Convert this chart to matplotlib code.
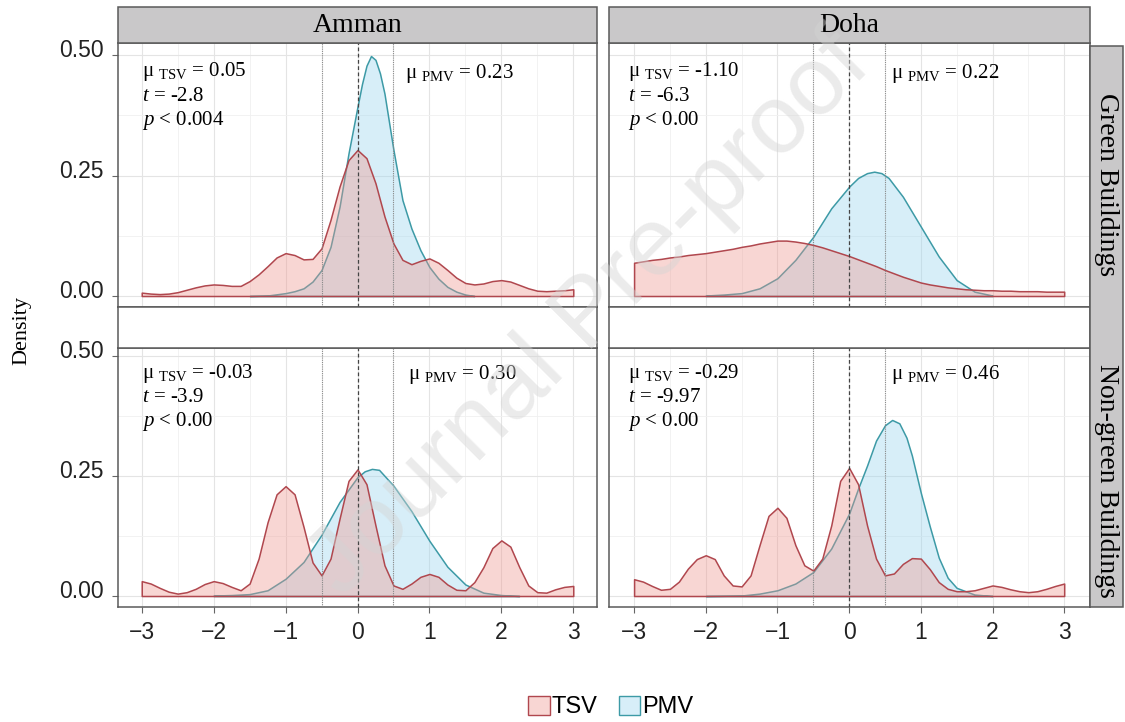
import matplotlib
matplotlib.use("Agg")
import matplotlib.pyplot as plt
import matplotlib.transforms as mtransforms
from matplotlib.patches import Patch, Rectangle
from matplotlib.colors import to_rgba
import numpy as np

# ---- data ----
cities = ["Amman", "Doha"]
groups = ["Green Buildings", "Non-green Buildings"]

# TSV densities sampled every 0.125 from -3 to 3
tsv_grid = np.linspace(-3, 3, 49)
tsv_amman_green = [
    0.007, 0.005, 0.004, 0.005, 0.008, 0.013, 0.018, 0.022, 0.024, 0.023,
    0.021, 0.021, 0.031, 0.045, 0.062, 0.080, 0.089, 0.085, 0.076, 0.077,
    0.099, 0.158, 0.227, 0.282, 0.303, 0.286, 0.234, 0.165, 0.109, 0.075,
    0.066, 0.073, 0.078, 0.069, 0.054, 0.038, 0.027, 0.024, 0.026, 0.031,
    0.033, 0.030, 0.023, 0.016, 0.011, 0.010, 0.011, 0.012, 0.014]
tsv_doha_green = [
    0.069, 0.072, 0.075, 0.077, 0.080, 0.082, 0.085, 0.087, 0.089, 0.092,
    0.095, 0.098, 0.102, 0.105, 0.109, 0.112, 0.115, 0.115, 0.113, 0.110,
    0.106, 0.101, 0.095, 0.089, 0.083, 0.076, 0.069, 0.062, 0.054, 0.047,
    0.040, 0.034, 0.028, 0.024, 0.021, 0.018, 0.016, 0.014, 0.013, 0.012,
    0.012, 0.011, 0.011, 0.010, 0.010, 0.010, 0.009, 0.009, 0.009]
tsv_amman_nongreen = [
    0.031, 0.026, 0.017, 0.009, 0.005, 0.008, 0.015, 0.025, 0.031, 0.027,
    0.019, 0.012, 0.026, 0.078, 0.154, 0.212, 0.229, 0.212, 0.144, 0.070,
    0.043, 0.078, 0.161, 0.240, 0.264, 0.233, 0.147, 0.064, 0.022, 0.015,
    0.026, 0.040, 0.046, 0.040, 0.024, 0.013, 0.012, 0.029, 0.060, 0.100,
    0.116, 0.103, 0.060, 0.022, 0.008, 0.007, 0.014, 0.019, 0.021]
tsv_doha_nongreen = [
    0.035, 0.030, 0.021, 0.013, 0.015, 0.030, 0.057, 0.077, 0.085, 0.077,
    0.043, 0.022, 0.020, 0.043, 0.106, 0.167, 0.184, 0.163, 0.106, 0.064,
    0.053, 0.078, 0.147, 0.240, 0.267, 0.233, 0.147, 0.078, 0.043, 0.047,
    0.067, 0.079, 0.078, 0.056, 0.029, 0.015, 0.010, 0.010, 0.012, 0.017,
    0.022, 0.019, 0.014, 0.010, 0.008, 0.010, 0.015, 0.021, 0.026]

# PMV densities (own sample points)
pmv_amman_green_x = [-1.5, -1.25, -1.0, -0.875, -0.75, -0.625, -0.5, -0.375, -0.25, -0.125,
                     0.0, 0.0625, 0.125, 0.1875, 0.25, 0.3125, 0.375, 0.5, 0.625, 0.75,
                     0.875, 1.0, 1.125, 1.25, 1.375, 1.5, 1.625]
pmv_amman_green_y = [0.0, 0.001, 0.006, 0.010, 0.016, 0.030, 0.054, 0.102, 0.185, 0.296,
                     0.393, 0.440, 0.478, 0.498, 0.490, 0.462, 0.420, 0.303, 0.199, 0.140,
                     0.095, 0.060, 0.036, 0.019, 0.009, 0.003, 0.0]
pmv_doha_green_x = [-2.0, -1.75, -1.5, -1.25, -1.0, -0.75, -0.5, -0.25, 0.0, 0.125,
                    0.25, 0.35, 0.45, 0.55, 0.75, 1.0, 1.25, 1.5, 1.75, 2.0]
pmv_doha_green_y = [0.001, 0.003, 0.006, 0.016, 0.037, 0.075, 0.123, 0.182, 0.227, 0.245,
                    0.255, 0.258, 0.255, 0.245, 0.206, 0.144, 0.082, 0.033, 0.009, 0.001]
pmv_amman_nongreen_x = [-2.0, -1.75, -1.5, -1.25, -1.0, -0.75, -0.5, -0.25, 0.0, 0.1,
                        0.2, 0.3, 0.5, 0.75, 1.0, 1.25, 1.5, 1.75, 2.0, 2.25]
pmv_amman_nongreen_y = [0.001, 0.002, 0.004, 0.012, 0.036, 0.071, 0.128, 0.196, 0.248, 0.260,
                        0.265, 0.263, 0.230, 0.177, 0.115, 0.061, 0.024, 0.007, 0.002, 0.0]
pmv_doha_nongreen_x = [-2.0, -1.5, -1.25, -1.0, -0.75, -0.5, -0.25, 0.0, 0.125, 0.25,
                       0.375, 0.5, 0.6, 0.7, 0.8, 0.875, 1.0, 1.125, 1.25, 1.375,
                       1.5, 1.75, 2.0]
pmv_doha_nongreen_y = [0.0, 0.001, 0.005, 0.012, 0.026, 0.050, 0.099, 0.172, 0.224, 0.272,
                       0.324, 0.356, 0.367, 0.360, 0.330, 0.293, 0.215, 0.145, 0.080, 0.038,
                       0.017, 0.003, 0.0]

# annotation text per panel: (mu_tsv, t, p, mu_pmv)
stats = {
    ("Amman", "Green Buildings"): ("0.05", "-2.8", "0.004", "0.23"),
    ("Doha", "Green Buildings"): ("-1.10", "-6.3", "0.00", "0.22"),
    ("Amman", "Non-green Buildings"): ("-0.03", "-3.9", "0.00", "0.30"),
    ("Doha", "Non-green Buildings"): ("-0.29", "-9.97", "0.00", "0.46"),
}

tsv_data = {
    ("Amman", "Green Buildings"): tsv_amman_green,
    ("Doha", "Green Buildings"): tsv_doha_green,
    ("Amman", "Non-green Buildings"): tsv_amman_nongreen,
    ("Doha", "Non-green Buildings"): tsv_doha_nongreen,
}
pmv_data = {
    ("Amman", "Green Buildings"): (pmv_amman_green_x, pmv_amman_green_y),
    ("Doha", "Green Buildings"): (pmv_doha_green_x, pmv_doha_green_y),
    ("Amman", "Non-green Buildings"): (pmv_amman_nongreen_x, pmv_amman_nongreen_y),
    ("Doha", "Non-green Buildings"): (pmv_doha_nongreen_x, pmv_doha_nongreen_y),
}

# ---- styling ----
SERIF = "Liberation Serif"
SANS = "Liberation Sans"
plt.rcParams["font.family"] = [SANS, "DejaVu Sans"]
plt.rcParams["mathtext.fontset"] = "custom"
plt.rcParams["mathtext.rm"] = SERIF
plt.rcParams["mathtext.it"] = SERIF + ":italic"

tsv_face = to_rgba("#ef958d", 0.38)
tsv_edge = "#b0474e"
pmv_face = to_rgba("#9cd6ef", 0.40)
pmv_edge = "#3d9aa6"
border = "#5a5a5a"
strip_bg = "#c9c8c9"
ANN = 15

W, H = 1125, 722
fig = plt.figure(figsize=(W / 100, H / 100), dpi=100)


def rect(x0, y0, x1, y1):
    return [x0 / W, 1 - y1 / H, (x1 - x0) / W, (y1 - y0) / H]


col_px = {"Amman": (118, 597), "Doha": (609, 1090)}
row_px = {"Green Buildings": (43, 307), "Non-green Buildings": (348, 607)}
xlims = {"Amman": (-3.33, 3.33), "Doha": (-3.35, 3.36)}
ylims = {"Green Buildings": (-0.0228, 0.525), "Non-green Buildings": (-0.0229, 0.517)}
text_y = {"Green Buildings": (0.456, 0.405, 0.355), "Non-green Buildings": (0.455, 0.405, 0.355)}

for city in cities:
    x0, x1 = col_px[city]
    for grp in groups:
        y0, y1 = row_px[grp]
        ax = fig.add_axes(rect(x0, y0, x1, y1))
        ax.set_xlim(*xlims[city])
        ax.set_ylim(*ylims[grp])
        ax.set_xticks(range(-3, 4))
        ax.set_xticks(np.arange(-2.5, 3.0, 1.0), minor=True)
        ax.set_yticks([0, 0.25, 0.5])
        ax.set_yticks([0.125, 0.375], minor=True)
        ax.grid(True, which="major", color="#e4e4e4", linewidth=0.8)
        ax.grid(True, which="minor", color="#f0f0f0", linewidth=0.6)
        ax.set_axisbelow(True)
        for sp in ax.spines.values():
            sp.set_color(border)
            sp.set_linewidth(1.1)
        ax.tick_params(which="minor", length=0)
        ax.tick_params(which="major", color="#666666", length=4, width=0.8,
                       labelsize=16.5, labelcolor="#222222")

        px, py = pmv_data[(city, grp)]
        ax.fill_between(px, py, 0, facecolor=pmv_face, edgecolor=pmv_edge,
                        linewidth=1.1, zorder=2, joinstyle="round")
        ax.fill_between(tsv_grid, tsv_data[(city, grp)], 0, facecolor=tsv_face,
                        edgecolor=tsv_edge, linewidth=1.1, zorder=3, joinstyle="round")

        ax.axvline(-0.5, color="#8a8a8a", linestyle=(0, (1, 1)), linewidth=0.8, zorder=4)
        ax.axvline(0.5, color="#8a8a8a", linestyle=(0, (1, 1)), linewidth=0.8, zorder=4)
        ax.axvline(0, color="#444444", linestyle=(0, (3, 2)), linewidth=0.9, zorder=4)

        if city == "Amman":
            ax.set_yticklabels(["0.00", "0.25", "0.50"])
            ax.tick_params(axis="y", pad=6)
            off = mtransforms.ScaledTranslation(0, 5 / 72, fig.dpi_scale_trans)
            for lab in ax.get_yticklabels():
                lab.set_transform(lab.get_transform() + off)
        else:
            ax.tick_params(axis="y", left=False, labelleft=False)
        if grp == "Green Buildings":
            ax.tick_params(axis="x", bottom=False, labelbottom=False)
        else:
            ax.set_xticklabels(["\u22123", "\u22122", "\u22121", "0", "1", "2", "3"])
            ax.tick_params(axis="x", pad=6)

        mu_t, t_val, p_val, mu_p = stats[(city, grp)]
        ty = text_y[grp]
        tx = -3.0 if city == "Amman" else -3.08
        ax.text(tx, ty[0], "\u03bc $_{\\mathrm{TSV}}$ = " + mu_t, fontsize=ANN,
                family=SERIF, zorder=6)
        ax.text(tx, ty[1], "$t$ = " + t_val, fontsize=ANN, family=SERIF, zorder=6)
        ax.text(tx, ty[2], "$p$ < " + p_val, fontsize=ANN, family=SERIF, zorder=6)
        pmv_x = {"Amman": 0.66, "Doha": 0.58}[city]
        if (city, grp) == ("Amman", "Non-green Buildings"):
            pmv_x = 0.70
        ax.text(pmv_x, ty[0] - 0.003, "\u03bc $_{\\mathrm{PMV}}$ = " + mu_p, fontsize=ANN,
                family=SERIF, zorder=6)

    # blank box between the rows
    bx = fig.add_axes(rect(x0, 307, x1, 348))
    bx.set_xticks([])
    bx.set_yticks([])
    for sp in bx.spines.values():
        sp.set_color(border)
        sp.set_linewidth(1.1)

    # top strip
    fig.patches.append(Rectangle((x0 / W, 1 - 43 / H), (x1 - x0) / W, 36 / H,
                                 transform=fig.transFigure, facecolor=strip_bg,
                                 edgecolor=border, linewidth=1.1))
    fig.text((x0 + x1) / 2 / W, 1 - 26 / H, city, ha="center", va="center",
             fontsize=20, family=SERIF)

# right strip
fig.patches.append(Rectangle((1090 / W, 1 - 607 / H), 33 / W, 561 / H,
                             transform=fig.transFigure, facecolor=strip_bg,
                             edgecolor=border, linewidth=1.1))
fig.text(1107 / W, 1 - 185 / H, groups[0], rotation=-90, ha="center", va="center",
         fontsize=20, family=SERIF)
fig.text(1107 / W, 1 - 481 / H, groups[1], rotation=-90, ha="center", va="center",
         fontsize=20, family=SERIF)

fig.text(22 / W, 1 - 330 / H, "Density", rotation=90, ha="center", va="center",
         fontsize=16, family=SERIF)

handles = [Patch(facecolor=tsv_face, edgecolor=tsv_edge, label="TSV"),
           Patch(facecolor=pmv_face, edgecolor=pmv_edge, label="PMV")]
fig.legend(handles=handles, loc="center", bbox_to_anchor=(611 / W, 1 - 707 / H),
           ncol=2, frameon=False, fontsize=17, handlelength=0.9, handleheight=0.9,
           handletextpad=0.1, columnspacing=0.9)

# watermark
fig.text(590 / W, 1 - 315 / H, "Journal Pre-proof", rotation=45, ha="center",
         va="center", fontsize=70, color="#d4d4d4", alpha=0.45, family=SANS, zorder=10)

fig.savefig("out.png", dpi=100)
